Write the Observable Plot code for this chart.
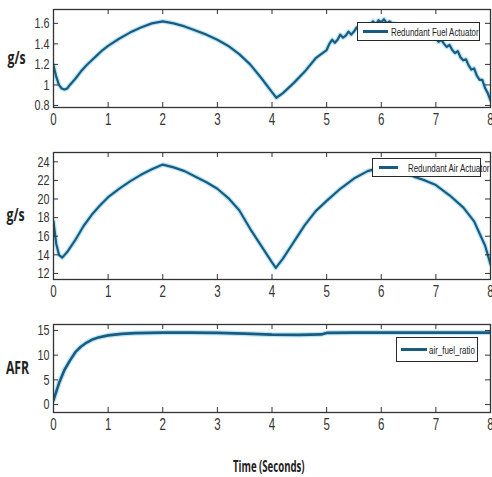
<!DOCTYPE html>
<html>
<head>
<meta charset="utf-8">
<script src="https://cdn.jsdelivr.net/npm/d3@7"></script>
<script src="https://cdn.jsdelivr.net/npm/@observablehq/plot@0.6"></script>
<style>
  body { margin: 0; background: #fff; }
  #wrap { position: relative; width: 492px; height: 477px; overflow: hidden; background: #fff;
          font-family: "Liberation Sans", "DejaVu Sans", sans-serif; }
  .pl { position: absolute; left: 0; }
  .legend { position: absolute; background: #fff; border: 1px solid #2a2a2a; box-sizing: border-box; }
  .legend .ln { position: absolute; height: 3px; background: #1a5b80; }
  .legend .tx { position: absolute; font-size: 11px; color: #222; white-space: nowrap; line-height: 1;
                transform: scaleX(0.72); transform-origin: left center; }
  #xtitle { position: absolute; left: 233px; top: 455px; font-weight: bold; font-size: 16px; color: #222;
            white-space: nowrap; transform: scaleX(0.6); transform-origin: left center; font-family: "Open Sans", sans-serif; }
</style>
</head>
<body>
<div id="wrap"></div>
<script>
// ---- data ----
const fuelT = [0,0.05,0.1,0.15,0.2,0.25,0.3,0.4,0.5,0.6,0.7,0.8,0.9,1.0,1.2,1.4,1.6,1.8,2.0,2.2,2.4,2.6,2.8,3.0,3.2,3.4,3.6,3.8,4.0,4.08,4.2,4.4,4.6,4.8,4.9,5.0,5.05,5.1,5.15,5.2,5.25,5.3,5.35,5.4,5.45,5.5,5.55,5.6,5.65,5.7,5.75,5.8,5.85,5.9,5.95,6.0,6.05,6.1,6.15,6.2,6.4,6.6,6.8,7.0,7.05,7.1,7.15,7.2,7.25,7.3,7.35,7.4,7.45,7.5,7.55,7.6,7.65,7.7,7.75,7.8,7.85,7.9,7.95,8.0];
const fuelV = [1.19,1.08,1.00,0.965,0.955,0.965,1.0,1.06,1.13,1.19,1.24,1.29,1.34,1.38,1.45,1.51,1.56,1.60,1.62,1.60,1.57,1.53,1.49,1.44,1.38,1.30,1.20,1.07,0.93,0.875,0.92,1.02,1.13,1.26,1.30,1.34,1.40,1.44,1.41,1.44,1.49,1.46,1.48,1.52,1.49,1.52,1.56,1.53,1.56,1.59,1.56,1.59,1.62,1.59,1.63,1.61,1.64,1.60,1.62,1.60,1.58,1.54,1.50,1.45,1.42,1.44,1.40,1.37,1.39,1.34,1.31,1.33,1.27,1.24,1.25,1.19,1.15,1.16,1.09,1.05,1.05,0.97,0.92,0.85];

const airT = [0,0.05,0.1,0.16,0.25,0.4,0.55,0.7,0.85,1.0,1.2,1.4,1.6,1.8,2.0,2.2,2.4,2.6,2.8,3.0,3.2,3.4,3.6,3.8,4.0,4.07,4.2,4.4,4.6,4.8,5.0,5.25,5.5,5.75,6.0,6.2,6.4,6.6,6.8,7.0,7.25,7.5,7.7,7.8,7.9,8.0];
const airV = [17.6,15.2,14.0,13.7,14.3,15.6,17.1,18.3,19.3,20.2,21.1,21.9,22.6,23.2,23.7,23.4,23.0,22.4,21.8,21.1,20.1,18.8,16.8,15.0,13.2,12.6,13.6,15.4,17.2,18.7,19.8,21.1,22.2,23.0,23.4,23.4,22.9,22.4,22.0,21.5,20.4,19.1,17.6,16.3,15.0,13.0];

const afrT = [0,0.1,0.2,0.3,0.4,0.5,0.6,0.7,0.8,1.0,1.25,1.5,2.0,2.5,3.0,3.5,4.0,4.5,4.9,5.0,5.5,6.0,6.5,7.0,7.5,8.0];
const afrV = [0.9,4.3,7.0,8.9,10.6,11.7,12.5,13.1,13.5,14.0,14.3,14.45,14.55,14.55,14.5,14.35,14.15,14.1,14.2,14.5,14.55,14.55,14.55,14.55,14.55,14.55];

const xTicks = [0,1,2,3,4,5,6,7,8];
const fuelTicks = [0.8,1,1.2,1.4,1.6];
const airTicks = [12,14,16,18,20,22,24];
const afrTicks = [0,5,10,15];

const legendNames = ["Redundant Fuel Actuator","Redundant Air Actuator","air_fuel_ratio"];
const yLabels = ["g/s","g/s","AFR"];
const xTitle = "Time (Seconds)";

// ---- drawing ----
const W = 492, ML = 53, MR = 2;
const FONT = '"Liberation Sans", "DejaVu Sans", sans-serif';
const LINE = "#1a5b80", HALO = "#9fdcf0";

function panel(cfg) {
  const data = cfg.t.map((t, i) => ({t, v: cfg.v[i]}));
  const ph = cfg.height - cfg.mt - cfg.mb;
  const pw = W - ML - MR;
  const tick = 5;
  return Plot.plot({
    width: W, height: cfg.height,
    marginLeft: ML, marginRight: MR, marginTop: cfg.mt, marginBottom: cfg.mb,
    style: {fontFamily: FONT, fontSize: "15px", color: "#333", background: "transparent", overflow: "visible"},
    x: {domain: [0, 8]},
    y: {domain: cfg.domain},
    marks: [
      Plot.line(data, {x: "t", y: "v", stroke: HALO, strokeWidth: cfg.sw + 2.5, strokeOpacity: 0.7, clip: true}),
      Plot.line(data, {x: "t", y: "v", stroke: LINE, strokeWidth: cfg.sw, clip: true}),
      Plot.tickX(xTicks, {x: d => d, insetTop: ph - tick, stroke: "#333"}),
      Plot.tickX(xTicks, {x: d => d, insetBottom: ph - tick, stroke: "#333"}),
      Plot.tickY(cfg.ticks, {y: d => d, insetRight: pw - tick, stroke: "#333"}),
      Plot.tickY(cfg.ticks, {y: d => d, insetLeft: pw - tick, stroke: "#333"}),
      Plot.frame({stroke: "#333", strokeWidth: 1.3}),
      Plot.axisX(xTicks, {tickSize: 0, tickPadding: 6, label: null, fill: "#333", fontSize: 16}),
      Plot.axisY(cfg.ticks, {tickSize: 0, tickPadding: 4, label: null, tickFormat: d3.format(""), fill: "#333", fontSize: 15}),
      Plot.text([cfg.label], {frameAnchor: "left", dx: cfg.labelDx, text: d => d, fontWeight: "bold", fontSize: 17, fill: "#222", textAnchor: "middle", fontFamily: '"Open Sans", sans-serif'})
    ]
  });
}

const wrap = document.getElementById("wrap");
const panels = [
  {t: fuelT, v: fuelV, domain: [0.78, 1.735], ticks: fuelTicks, label: yLabels[0], labelDx: -37, top: 0, height: 130, mt: 9, mb: 23, sw: 2.2},
  {t: airT, v: airV, domain: [11.35, 25.0], ticks: airTicks, label: yLabels[1], labelDx: -38, top: 140, height: 165, mt: 12, mb: 26, sw: 2.2},
  {t: afrT, v: afrV, domain: [-1.6, 16.2], ticks: afrTicks, label: yLabels[2], labelDx: -36, top: 310, height: 135, mt: 14, mb: 33, sw: 2.6}
];
for (const p of panels) {
  const el = panel(p);
  el.classList.add("pl");
  el.style.top = p.top + "px";
  wrap.appendChild(el);
}
// condense all svg texts horizontally (the reference uses a narrow face)
wrap.querySelectorAll("svg text").forEach(t => {
  const L = t.getComputedTextLength();
  if (L > 0) {
    t.setAttribute("textLength", (L * 0.72).toFixed(2));
    t.setAttribute("lengthAdjust", "spacingAndGlyphs");
  }
});

// legends (HTML boxes)
const legendBoxes = [
  {left: 357, top: 22, w: 123, h: 19, l1: 5, l2: 30, tx: 33},
  {left: 372, top: 158, w: 109, h: 19, l1: 6, l2: 25, tx: 35},
  {left: 396, top: 337, w: 82, h: 25, l1: 4, l2: 30, tx: 32}
];
legendBoxes.forEach((b, i) => {
  const d = document.createElement("div");
  d.className = "legend";
  Object.assign(d.style, {left: b.left + "px", top: b.top + "px", width: b.w + "px", height: b.h + "px"});
  const ln = document.createElement("div");
  ln.className = "ln";
  Object.assign(ln.style, {left: b.l1 + "px", width: (b.l2 - b.l1) + "px", top: (b.h / 2 - 2.5) + "px"});
  const tx = document.createElement("div");
  tx.className = "tx";
  tx.textContent = legendNames[i];
  Object.assign(tx.style, {left: b.tx + "px", top: (b.h / 2 - 6) + "px"});
  d.appendChild(ln); d.appendChild(tx);
  wrap.appendChild(d);
});

const tt = document.createElement("div");
tt.id = "xtitle";
tt.textContent = xTitle;
wrap.appendChild(tt);
</script>
</body>
</html>
